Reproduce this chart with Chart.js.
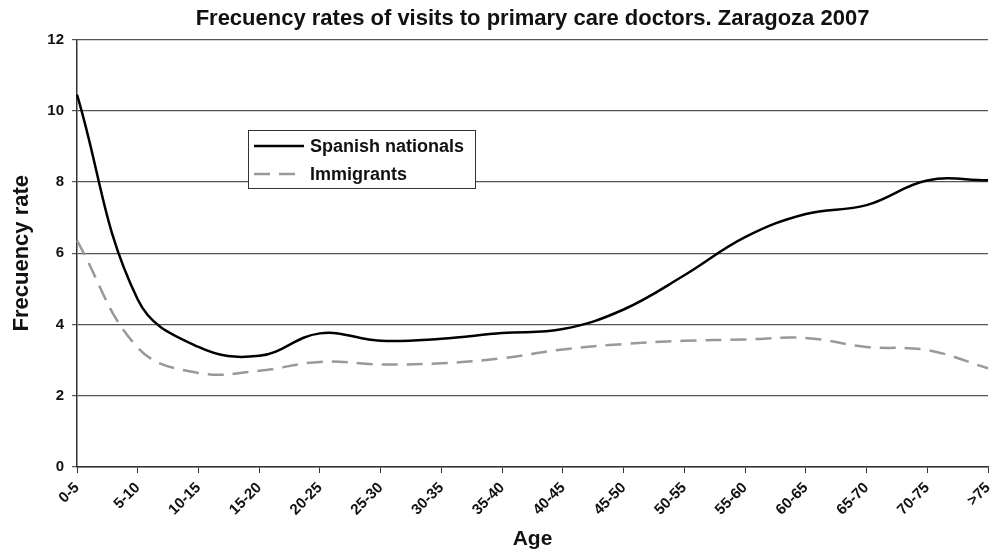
<!DOCTYPE html>
<html lang="en">
<head>
    <meta charset="UTF-8">
    <title>Frecuency rates of visits to primary care doctors</title>
    <style>
        html, body {
            margin: 0;
            padding: 0;
            background: #fff;
        }
        #wrap {
            width: 998px;
            height: 553px;
        }
    </style>
</head>
<body>
    <div id="wrap"><canvas id="rateChart" width="998" height="553"></canvas></div>

    <script src="https://cdn.jsdelivr.net/npm/chart.js"></script>
    <script>
        const ageGroups = ['0-5', '5-10', '10-15', '15-20', '20-25', '25-30', '30-35', '35-40',
            '40-45', '45-50', '50-55', '55-60', '60-65', '65-70', '70-75', '>75'];
        const spanishRates = [10.45, 4.7, 3.37, 3.12, 3.75, 3.54, 3.6, 3.76,
            3.87, 4.42, 5.38, 6.45, 7.1, 7.35, 8.04, 8.05];
        const immigrantRates = [6.35, 3.35, 2.64, 2.7, 2.95, 2.88, 2.91, 3.05,
            3.3, 3.45, 3.54, 3.58, 3.62, 3.37, 3.28, 2.77];
        const yTicks = [0, 2, 4, 6, 8, 10, 12];

        const fontFamily = '"Liberation Sans", Arial, sans-serif';

        // legend drawn as a framed box inside the plot, like the original
        const boxLegend = {
            id: 'boxLegend',
            afterDraw(chart) {
                const c = chart.ctx;
                const x = 248, y = 130, w = 227, h = 58;
                c.save();
                c.fillStyle = '#fff';
                c.fillRect(x, y, w, h);
                c.strokeStyle = '#333';
                c.lineWidth = 1;
                c.strokeRect(x + 0.5, y + 0.5, w, h);
                c.font = 'bold 18px ' + fontFamily;
                c.textBaseline = 'middle';
                chart.data.datasets.forEach((ds, i) => {
                    const ly = y + 16 + i * 28;
                    c.beginPath();
                    c.strokeStyle = ds.borderColor;
                    c.lineWidth = ds.borderWidth;
                    c.setLineDash(ds.borderDash || []);
                    c.moveTo(x + 6, ly);
                    c.lineTo(x + 56, ly);
                    c.stroke();
                    c.setLineDash([]);
                    c.fillStyle = '#111';
                    c.fillText(ds.label, x + 62, ly + 1);
                });
                c.restore();
            }
        };

        const ctx = document.getElementById('rateChart').getContext('2d');
        const rateChart = new Chart(ctx, {
            type: 'line',
            data: {
                labels: ageGroups,
                datasets: [{
                    label: 'Spanish nationals',
                    data: spanishRates,
                    borderColor: '#000',
                    borderWidth: 2.5,
                    tension: 0.4,
                    pointRadius: 0,
                    fill: false
                }, {
                    label: 'Immigrants',
                    data: immigrantRates,
                    borderColor: '#999',
                    borderWidth: 2.5,
                    borderDash: [16, 9],
                    tension: 0.4,
                    pointRadius: 0,
                    fill: false
                }]
            },
            options: {
                responsive: false,
                animation: false,
                layout: {
                    padding: { left: 0, right: 10, top: 0, bottom: 0 }
                },
                plugins: {
                    legend: { display: false },
                    tooltip: { enabled: false },
                    title: {
                        display: true,
                        fullSize: false,
                        text: 'Frecuency rates of visits to primary care doctors. Zaragoza 2007',
                        color: '#111',
                        font: { family: fontFamily, size: 22, weight: 'bold' },
                        padding: { top: 6, bottom: 7 }
                    }
                },
                scales: {
                    x: {
                        offset: false,
                        grid: {
                            drawOnChartArea: false,
                            color: '#333',
                            tickLength: 6
                        },
                        border: { color: '#333', width: 1.5 },
                        ticks: {
                            color: '#111',
                            minRotation: 45,
                            maxRotation: 45,
                            autoSkip: false,
                            padding: 6,
                            font: { family: fontFamily, size: 15, weight: 'bold' }
                        },
                        title: {
                            display: true,
                            text: 'Age',
                            color: '#111',
                            font: { family: fontFamily, size: 21, weight: 'bold' },
                            padding: { top: 0, bottom: 1 }
                        },
                        afterFit(scale) {
                            scale.height = 86;
                            scale.paddingLeft = 0;
                            scale.paddingRight = 0;
                        }
                    },
                    y: {
                        min: 0,
                        max: 12,
                        afterBuildTicks(scale) {
                            scale.ticks = yTicks.map(v => ({ value: v }));
                        },
                        grid: {
                            color: '#555',
                            lineWidth: 1.2,
                            tickLength: 5
                        },
                        border: { color: '#333', width: 1.5 },
                        ticks: {
                            color: '#111',
                            padding: 8,
                            font: { family: fontFamily, size: 15, weight: 'bold' }
                        },
                        title: {
                            display: true,
                            text: 'Frecuency rate',
                            color: '#111',
                            font: { family: fontFamily, size: 22, weight: 'bold' },
                            padding: { top: 9, bottom: 8 }
                        },
                        afterFit(scale) { scale.width = 77; }
                    }
                }
            },
            plugins: [boxLegend]
        });
    </script>
</body>
</html>
